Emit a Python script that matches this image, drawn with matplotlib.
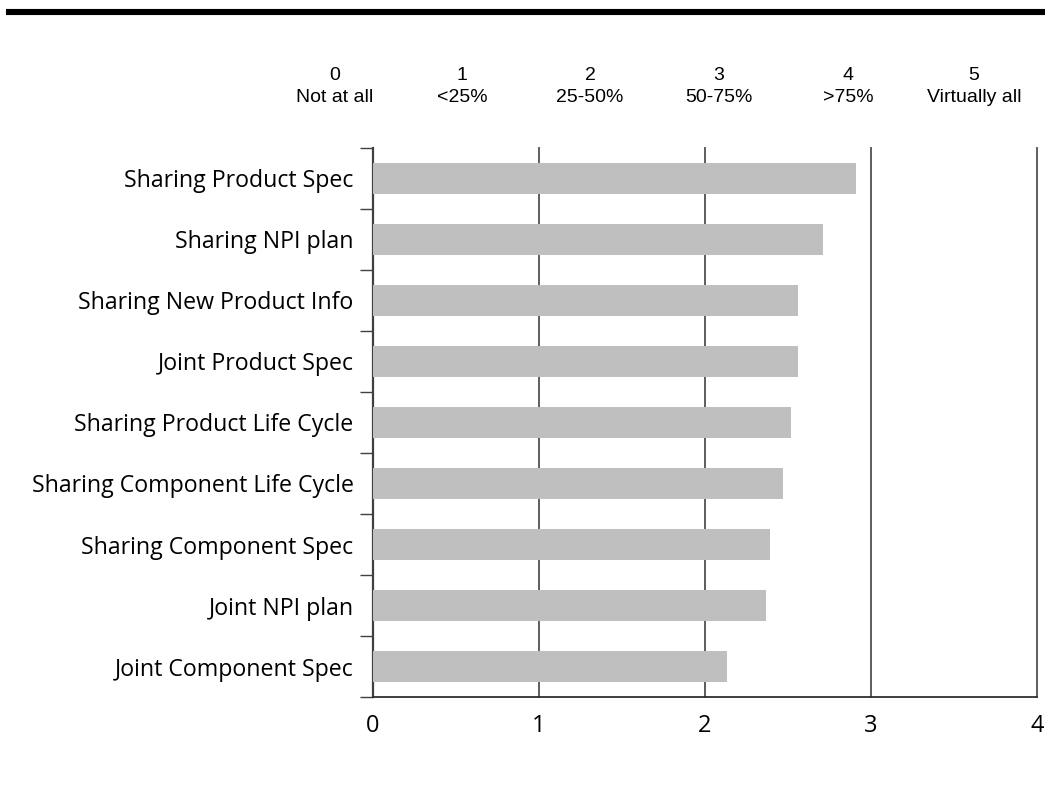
import matplotlib.pyplot as plt
from matplotlib.lines import Line2D

categories = [
    "Sharing Product Spec",
    "Sharing NPI plan",
    "Sharing New Product Info",
    "Joint Product Spec",
    "Sharing Product Life Cycle",
    "Sharing Component Life Cycle",
    "Sharing Component Spec",
    "Joint NPI plan",
    "Joint Component Spec",
]
scores = [2.91, 2.71, 2.56, 2.56, 2.52, 2.47, 2.39, 2.37, 2.13]

scale_levels = ["0", "1", "2", "3", "4", "5"]
scale_text = ["Not at all", "<25%", "25-50%", "50-75%", ">75%", "Virtually all"]
x_ticks = [0, 1, 2, 3, 4]

label_font = ["Open Sans", "DejaVu Sans"]
header_font = ["Liberation Sans", "DejaVu Sans"]

fig = plt.figure(figsize=(10.45, 8.02), dpi=100)
ax = fig.add_axes([0.3569, 0.1309, 0.6354, 0.6846])

pos = list(range(len(categories)))
ax.barh(pos, scores, height=0.52, color="#bfbfbf", zorder=3)

for x in x_ticks[1:]:
    ax.axvline(x, color="#505050", lw=1.3, zorder=1, clip_on=False)

ax.set_xlim(0, 4)
ax.set_ylim(len(categories) - 0.5, -0.5)

# boundaries get the tick marks, centres get the labels
ax.set_yticks([p - 0.5 for p in pos] + [len(categories) - 0.5])
ax.set_yticklabels([])
ax.tick_params(axis="y", which="major", length=9.5, width=1.0, color="#404040")
ax.set_yticks(pos, minor=True)
ax.set_yticklabels(categories, minor=True, fontsize=16.7, family=label_font)
ax.tick_params(axis="y", which="minor", length=0, pad=14)

ax.set_xticks(x_ticks)
ax.set_xticklabels([str(v) for v in x_ticks], fontsize=17, family=label_font)
ax.tick_params(axis="x", length=0, pad=12)

for side in ["top", "right"]:
    ax.spines[side].set_visible(False)
ax.spines["left"].set_color("#404040")
ax.spines["left"].set_linewidth(1.6)
ax.spines["bottom"].set_color("#303030")
ax.spines["bottom"].set_linewidth(1.3)

# header rule and rating scale
fig.add_artist(Line2D([9 / 1045, 1.0], [1 - 12 / 802, 1 - 12 / 802],
                      color="black", lw=4.4))
header_x = [335, 462, 590, 719, 848, 974]
for hx, lvl, txt in zip(header_x, scale_levels, scale_text):
    fig.text(hx / 1045, 1 - 75 / 802, lvl, ha="center", va="center",
             fontsize=14, family=header_font)
    fig.text(hx / 1045, 1 - 97 / 802, txt, ha="center", va="center",
             fontsize=14, family=header_font)

fig.savefig("out.png", dpi=100)
